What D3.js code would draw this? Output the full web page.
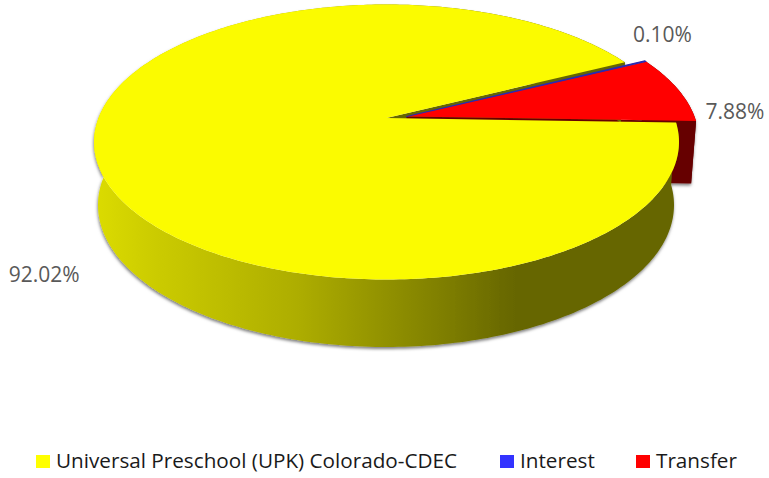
<!DOCTYPE html>
<html>
<head>
<meta charset="utf-8">
<script src="https://d3js.org/d3.v7.min.js"></script>
<style>html,body{margin:0;padding:0;background:#fff}svg{display:block}</style>
</head>
<body>
<div id="chart"></div>
<script>
const categories = ["Universal Preschool (UPK) Colorado-CDEC", "Interest", "Transfer"];
const values = [92.02, 0.10, 7.88];
const valueLabels = ["92.02%", "0.10%", "7.88%"];
const topColors = ["#fbfb00", "#2f2fe0", "#ff0000"];
const legendColors = ["#ffff00", "#3333ff", "#ff0000"];

const W = 769, H = 478;
const svg = d3.select("#chart").append("svg").attr("width", W).attr("height", H);
const defs = svg.append("defs");

const grad = defs.append("linearGradient").attr("id", "sideY")
  .attr("gradientUnits", "userSpaceOnUse").attr("x1", 94).attr("x2", 679).attr("y1", 0).attr("y2", 0);
[[0, "#dcdc00"], [0.1, "#cccc00"], [0.35, "#adad00"], [0.6, "#7e7e00"], [0.72, "#666600"], [1, "#666600"]]
  .forEach(([o, c]) => grad.append("stop").attr("offset", o).attr("stop-color", c));

const shadow = defs.append("filter").attr("id", "sh")
  .attr("x", "-5%").attr("y", "-5%").attr("width", "110%").attr("height", "115%");
shadow.append("feDropShadow").attr("dx", -0.5).attr("dy", 2).attr("stdDeviation", 1.5)
  .attr("flood-color", "#000").attr("flood-opacity", 0.5);

// Perspective: the pie's centre is pushed up the ellipse by k
const k = -0.175, q = Math.sqrt(1 - k * k);
const topFace = { cx: 386.5, cy: 142, rx: 292.5, ry: 137.5 };
const botFace = { cx: 386, cy: 205, rx: 288, ry: 142 };
const explode = [[0, 0], [20, -1.5], [20, -1.5]];

function proj(face, a, r, off) {
  const u = r * Math.sin(a), v = -r * Math.cos(a), d = 1 + k * v;
  return [face.cx + face.rx * u * q / d + off[0], face.cy + face.ry * (v + k) / d + off[1]];
}
const pie = d3.pie().sort(null).startAngle(92 * Math.PI / 180).endAngle((92 + 360) * Math.PI / 180);
const arcs = pie(values);
const line = d3.line();

function rim(face, d, off) {
  const n = Math.max(2, Math.ceil((d.endAngle - d.startAngle) * 60));
  return d3.range(n + 1).map(i => proj(face, d.startAngle + (d.endAngle - d.startAngle) * i / n, 1, off));
}
const wedge = (d, off) => line([proj(topFace, 0, 0, off), ...rim(topFace, d, off)]) + "Z";
// The wall is the union of small quads, so its silhouette follows the two faces
const strip = (d, off) => {
  const t = rim(topFace, d, off), b = rim(botFace, d, off);
  return d3.range(t.length - 1).map(i => line([t[i], t[i + 1], b[i + 1], b[i]]) + "Z").join("");
};
const cut = (a, off) => line([proj(topFace, 0, 0, off), proj(topFace, a, 1, off), proj(botFace, a, 1, off), proj(botFace, 0, 0, off)]) + "Z";

const [yl, bl, rd] = arcs;
const oY = explode[0], oB = explode[1], oR = explode[2];

const base = svg.append("g").attr("filter", "url(#sh)");
base.append("path").attr("d", strip(rd, oR)).attr("fill", "#660000");
base.append("path").attr("d", cut(yl.endAngle, oY)).attr("fill", "#666600");
base.append("path").attr("d", cut(rd.endAngle, oR)).attr("fill", "#660000");
base.append("path").attr("d", strip(yl, oY)).attr("fill", "url(#sideY)");

svg.append("path").attr("d", wedge(rd, oR)).attr("fill", topColors[2]);
svg.append("path").attr("d", wedge(bl, oB)).attr("fill", topColors[1])
  .attr("stroke", "#2a2ab0").attr("stroke-width", 1.1).attr("stroke-linejoin", "round");
svg.append("path").attr("d", wedge(yl, oY)).attr("fill", topColors[0]);

// Data labels
const labelFont = "'Open Sans', sans-serif";
const labelOffsets = [[-50, 129], [17, -25], [57, 24]];
const dl = arcs.map((d, i) => {
  const p = proj(topFace, (d.startAngle + d.endAngle) / 2, 1, explode[i]);
  return { x: p[0] + labelOffsets[i][0], y: p[1] + labelOffsets[i][1], t: valueLabels[i] };
});
svg.append("g").selectAll("text").data(dl).join("text")
  .attr("x", d => d.x).attr("y", d => d.y)
  .attr("text-anchor", "middle").attr("dominant-baseline", "middle")
  .attr("font-family", labelFont).attr("font-size", 21).attr("fill", "#595959")
  .text(d => d.t);

// Legend
const legendX = d3.scaleOrdinal().domain(categories).range([36, 500, 636]);
const legend = svg.append("g").selectAll("g").data(categories).join("g")
  .attr("transform", d => `translate(${legendX(d)},455)`);
legend.append("rect").attr("width", 14).attr("height", 13).attr("fill", (d, i) => legendColors[i]);
legend.append("text").attr("x", 20).attr("y", 13)
  .attr("font-family", labelFont).attr("font-size", 20.7).attr("fill", "#1a1a1a")
  .text(d => d);
</script>
</body>
</html>
